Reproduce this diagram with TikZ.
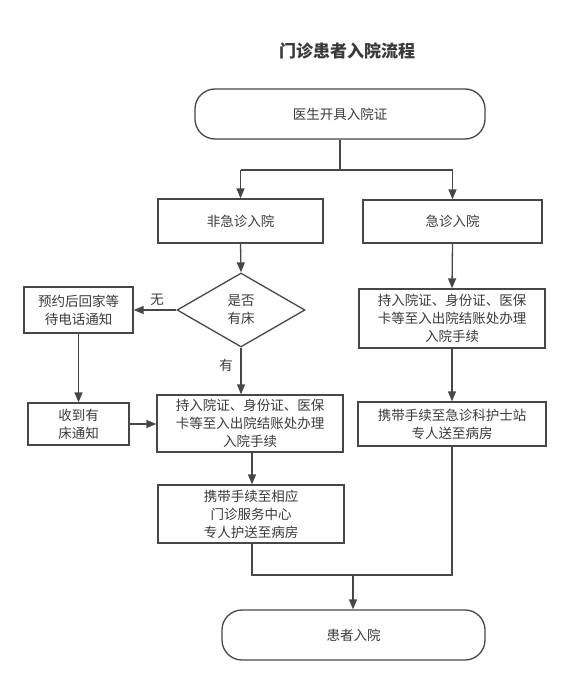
\documentclass[tikz,border=0pt]{standalone}
\usepackage{fontspec}
\setmainfont{Noto Sans CJK SC}
\usepackage{xcolor}
\usepackage{tikz}
\usetikzlibrary{shapes.geometric,arrows.meta,calc}

\definecolor{lineclr}{HTML}{474747}
\definecolor{txtclr}{HTML}{3A3A3A}

\tikzset{
	box/.style={draw=lineclr,line width=1.3pt,text=txtclr,align=center,
		inner sep=0pt,font=\fontsize{13.5}{18}\selectfont},
	term/.style={box,rounded corners=20pt},
	choice/.style={box,diamond,aspect=1.7},
	arr/.style={draw=lineclr,line width=1.3pt,-{Triangle[length=10pt,width=8pt]}},
	ln/.style={draw=lineclr,line width=1.3pt},
	lbl/.style={text=txtclr,font=\fontsize{13.5}{18}\selectfont}
}

\begin{document}
\begin{tikzpicture}[x=1pt,y=-1pt]
	\useasboundingbox (0,0) rectangle (570,685);
	
	\node[text=txtclr,font=\fontsize{17}{20}\selectfont\bfseries] (title) at (347,51) {门诊患者入院流程};
	
	\node[term,minimum width=290pt,minimum height=50pt] (start) at (340,114) {医生开具入院证};
	\node[box,minimum width=165pt,minimum height=44pt] (nonemg) at (240.5,221) {非急诊入院};
	\node[box,minimum width=179pt,minimum height=43pt] (emg) at (452.5,221.5) {急诊入院};
	\node[choice,minimum width=128pt,minimum height=74pt] (bed) at (241,310) {是否\\有床};
	\node[box,minimum width=109pt,minimum height=46pt] (wait) at (78.5,310) {预约后回家等\\待电话通知};
	\node[box,minimum width=101pt,minimum height=42pt] (notice) at (78.5,424) {收到有\\床通知};
	\node[box,minimum width=186pt,minimum height=57pt] (handle) at (250,423.5) {持入院证、身份证、医保\\卡等至入出院结账处办理\\入院手续};
	\node[box,minimum width=186pt,minimum height=58pt] (escort) at (251,514) {携带手续至相应\\门诊服务中心\\专人护送至病房};
	\node[box,minimum width=186pt,minimum height=59pt] (emghandle) at (452,318.5) {持入院证、身份证、医保\\卡等至入出院结账处办理\\入院手续};
	\node[box,minimum width=188pt,minimum height=44pt] (emgsend) at (452,424) {携带手续至急诊科护士站\\专人送至病房};
	\node[term,minimum width=263pt,minimum height=50pt] (finish) at (353.5,635) {患者入院};
	
	\coordinate (split) at (340,170);
	\coordinate (merge) at (353,575);
	
	\draw[ln] (start.south)--(split);
	\draw[ln] (nonemg.north|-split)--(emg.north|-split);
	\draw[arr] (split-|nonemg.north)--(nonemg.north);
	\draw[arr] (split-|emg.north)--(emg.north);
	\draw[arr] (nonemg.south)--(bed.north);
	\draw[arr] (bed.west)--(wait.east);
	\draw[arr] (bed.south)--(bed.south|-handle.north);
	\draw[arr] (wait.south)--(notice.north);
	\draw[arr] (notice.east)--(notice.east-|handle.west);
	\draw[arr] ($(handle.south)+(2,0)$)--($(escort.north)+(1,0)$);
	\draw[arr] (emg.south)--(emghandle.north);
	\draw[arr] (emghandle.south)--(emgsend.north);
	\draw[ln] ($(escort.south)+(1,0)$)--($(escort.south|-merge)+(1,0)$)--(emgsend.south|-merge)--(emgsend.south);
	\draw[arr] (merge)--(merge|-finish.north);
	
	\node[lbl] (no) at (157,300) {无};
	\node[lbl] (yes) at (226,365) {有};
\end{tikzpicture}
\end{document}
